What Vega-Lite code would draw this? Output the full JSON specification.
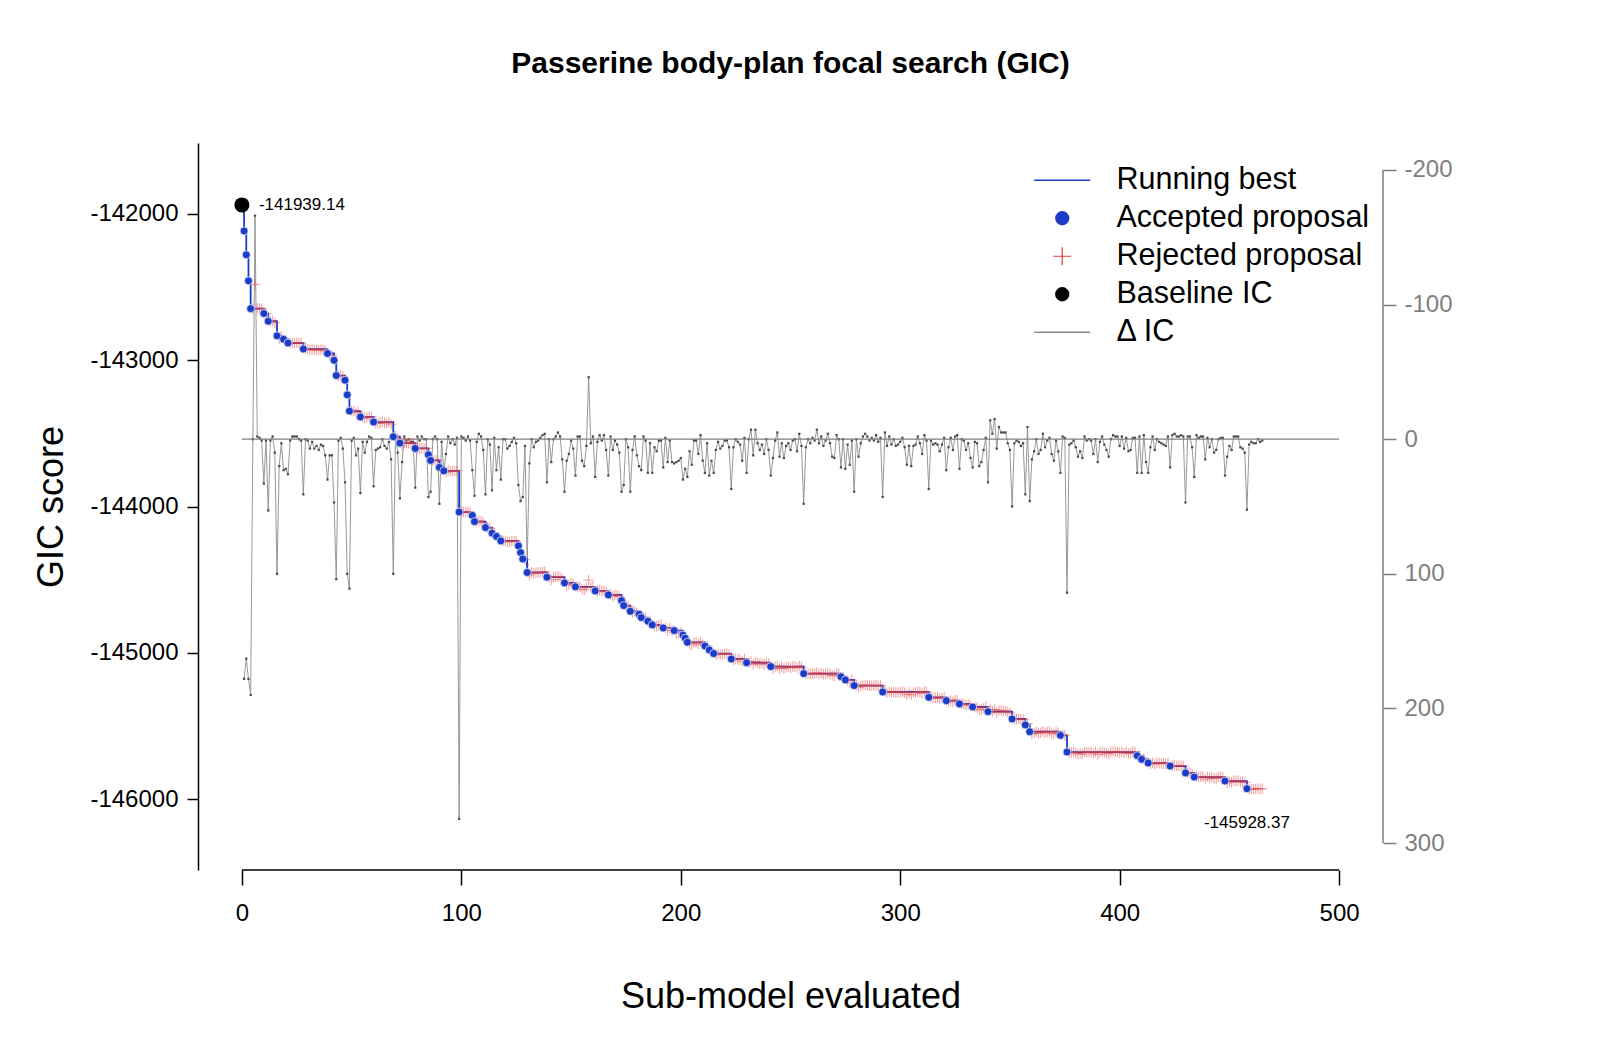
{
"$schema":"https://vega.github.io/schema/vega-lite/v6.json",
"width":1185,"height":727,
"autosize":{"type":"none"},
"padding":{"left":198,"top":143,"right":217,"bottom":180},
"background":"white",
"config":{"view":{"stroke":null},"font":"Liberation Sans"},
"title":{"text":"Passerine body-plan focal search (GIC)","font":"Liberation Sans","fontSize":30,"fontWeight":"bold","color":"black","anchor":"middle","baseline":"middle","offset":49},
"datasets":{"main":[
{"i":0,"s":-141939.14,"a":2,"d":0},
{"i":1,"s":-142117,"a":1,"d":178},{"i":2,"s":-142280,"a":1,"d":163},{"i":3,"s":-142458,"a":1,"d":178},{"i":4,"s":-142648,"a":1,"d":190},
{"i":5,"s":-142648,"a":0,"d":0},{"i":6,"s":-142482,"a":0,"d":-166},{"i":7,"s":-142646,"a":0,"d":-2},{"i":8,"s":-142647,"a":0,"d":-1},{"i":9,"s":-142649,"a":0,"d":1},
{"i":10,"s":-142681,"a":1,"d":33},{"i":11,"s":-142682,"a":0,"d":1},{"i":12,"s":-142734,"a":1,"d":53},{"i":13,"s":-142735,"a":0,"d":1},{"i":14,"s":-142732,"a":0,"d":-2},
{"i":15,"s":-142744,"a":0,"d":10},{"i":16,"s":-142834,"a":1,"d":100},{"i":17,"s":-142854,"a":0,"d":20},{"i":18,"s":-142837,"a":0,"d":3},{"i":19,"s":-142857,"a":1,"d":23},
{"i":20,"s":-142879,"a":0,"d":22},{"i":21,"s":-142883,"a":1,"d":26},{"i":22,"s":-142884,"a":0,"d":1},{"i":23,"s":-142881,"a":0,"d":-2},{"i":24,"s":-142881,"a":0,"d":-2},
{"i":25,"s":-142881,"a":0,"d":-2},{"i":26,"s":-142883,"a":0,"d":0},{"i":27,"s":-142884,"a":0,"d":1},{"i":28,"s":-142924,"a":1,"d":41},{"i":29,"s":-142924,"a":0,"d":0},
{"i":30,"s":-142925,"a":0,"d":1},{"i":31,"s":-142931,"a":0,"d":7},{"i":32,"s":-142926,"a":0,"d":2},{"i":33,"s":-142931,"a":0,"d":7},{"i":34,"s":-142929,"a":0,"d":5},
{"i":35,"s":-142932,"a":0,"d":8},{"i":36,"s":-142928,"a":0,"d":4},{"i":37,"s":-142929,"a":0,"d":5},{"i":38,"s":-142936,"a":0,"d":12},{"i":39,"s":-142954,"a":1,"d":30},
{"i":40,"s":-142966,"a":0,"d":12},{"i":41,"s":-142966,"a":0,"d":12},{"i":42,"s":-143001,"a":1,"d":47},{"i":43,"s":-143105,"a":1,"d":104},{"i":44,"s":-143106,"a":0,"d":1},
{"i":45,"s":-143104,"a":0,"d":-1},{"i":46,"s":-143112,"a":0,"d":7},{"i":47,"s":-143137,"a":1,"d":32},{"i":48,"s":-143237,"a":1,"d":100},{"i":49,"s":-143348,"a":1,"d":111},
{"i":50,"s":-143349,"a":0,"d":1},{"i":51,"s":-143347,"a":0,"d":-1},{"i":52,"s":-143360,"a":0,"d":12},{"i":53,"s":-143355,"a":0,"d":7},{"i":54,"s":-143388,"a":1,"d":40},
{"i":55,"s":-143390,"a":0,"d":2},{"i":56,"s":-143398,"a":0,"d":10},{"i":57,"s":-143390,"a":0,"d":2},{"i":58,"s":-143386,"a":0,"d":-2},{"i":59,"s":-143387,"a":0,"d":-1},
{"i":60,"s":-143423,"a":1,"d":35},{"i":61,"s":-143431,"a":0,"d":8},{"i":62,"s":-143430,"a":0,"d":7},{"i":63,"s":-143429,"a":0,"d":6},{"i":64,"s":-143423,"a":0,"d":0},
{"i":65,"s":-143428,"a":0,"d":5},{"i":66,"s":-143430,"a":0,"d":7},{"i":67,"s":-143425,"a":0,"d":2},{"i":68,"s":-143438,"a":0,"d":15},{"i":69,"s":-143523,"a":1,"d":100},
{"i":70,"s":-143521,"a":0,"d":-2},{"i":71,"s":-143533,"a":0,"d":10},{"i":72,"s":-143567,"a":1,"d":44},{"i":73,"s":-143584,"a":0,"d":17},{"i":74,"s":-143565,"a":0,"d":-2},
{"i":75,"s":-143568,"a":0,"d":1},{"i":76,"s":-143567,"a":0,"d":0},{"i":77,"s":-143569,"a":0,"d":2},{"i":78,"s":-143569,"a":0,"d":2},{"i":79,"s":-143603,"a":1,"d":36},
{"i":80,"s":-143601,"a":0,"d":-2},{"i":81,"s":-143604,"a":0,"d":1},{"i":82,"s":-143601,"a":0,"d":-2},{"i":83,"s":-143603,"a":0,"d":0},{"i":84,"s":-143603,"a":0,"d":0},
{"i":85,"s":-143646,"a":1,"d":43},{"i":86,"s":-143685,"a":1,"d":39},{"i":87,"s":-143685,"a":0,"d":0},{"i":88,"s":-143683,"a":0,"d":-2},{"i":89,"s":-143685,"a":0,"d":0},
{"i":90,"s":-143733,"a":1,"d":48},{"i":91,"s":-143735,"a":0,"d":2},{"i":92,"s":-143756,"a":1,"d":23},{"i":93,"s":-143767,"a":0,"d":11},{"i":94,"s":-143754,"a":0,"d":-2},
{"i":95,"s":-143759,"a":0,"d":3},{"i":96,"s":-143756,"a":0,"d":0},{"i":97,"s":-143760,"a":0,"d":4},{"i":98,"s":-143755,"a":0,"d":-1},{"i":99,"s":-144038,"a":1,"d":282},
{"i":100,"s":-144036,"a":0,"d":-2},{"i":101,"s":-144037,"a":0,"d":-1},{"i":102,"s":-144039,"a":0,"d":1},{"i":103,"s":-144036,"a":0,"d":-2},{"i":104,"s":-144039,"a":0,"d":1},
{"i":105,"s":-144061,"a":1,"d":23},{"i":106,"s":-144103,"a":1,"d":42},{"i":107,"s":-144105,"a":0,"d":2},{"i":108,"s":-144099,"a":0,"d":-4},{"i":109,"s":-144101,"a":0,"d":-2},
{"i":110,"s":-144111,"a":0,"d":8},{"i":111,"s":-144144,"a":1,"d":41},{"i":112,"s":-144144,"a":0,"d":0},{"i":113,"s":-144148,"a":0,"d":4},{"i":114,"s":-144182,"a":1,"d":38},
{"i":115,"s":-144181,"a":0,"d":-1},{"i":116,"s":-144205,"a":1,"d":23},{"i":117,"s":-144211,"a":0,"d":6},{"i":118,"s":-144235,"a":1,"d":30},{"i":119,"s":-144235,"a":0,"d":0},
{"i":120,"s":-144235,"a":0,"d":0},{"i":121,"s":-144242,"a":0,"d":7},{"i":122,"s":-144240,"a":0,"d":5},{"i":123,"s":-144237,"a":0,"d":2},{"i":124,"s":-144234,"a":0,"d":-1},
{"i":125,"s":-144238,"a":0,"d":3},{"i":126,"s":-144269,"a":1,"d":34},{"i":127,"s":-144315,"a":1,"d":46},{"i":128,"s":-144358,"a":1,"d":43},{"i":129,"s":-144363,"a":0,"d":5},
{"i":130,"s":-144451,"a":1,"d":93},{"i":131,"s":-144469,"a":0,"d":18},{"i":132,"s":-144451,"a":0,"d":0},{"i":133,"s":-144457,"a":0,"d":6},{"i":134,"s":-144453,"a":0,"d":2},
{"i":135,"s":-144452,"a":0,"d":1},{"i":136,"s":-144450,"a":0,"d":-1},{"i":137,"s":-144448,"a":0,"d":-3},{"i":138,"s":-144447,"a":0,"d":-4},{"i":139,"s":-144483,"a":1,"d":32},
{"i":140,"s":-144483,"a":0,"d":0},{"i":141,"s":-144500,"a":0,"d":17},{"i":142,"s":-144483,"a":0,"d":0},{"i":143,"s":-144481,"a":0,"d":-2},{"i":144,"s":-144478,"a":0,"d":-5},
{"i":145,"s":-144481,"a":0,"d":-2},{"i":146,"s":-144498,"a":0,"d":15},{"i":147,"s":-144522,"a":1,"d":39},{"i":148,"s":-144538,"a":0,"d":16},{"i":149,"s":-144533,"a":0,"d":11},
{"i":150,"s":-144523,"a":0,"d":1},{"i":151,"s":-144529,"a":0,"d":7},{"i":152,"s":-144549,"a":1,"d":27},{"i":153,"s":-144547,"a":0,"d":-2},{"i":154,"s":-144547,"a":0,"d":-2},
{"i":155,"s":-144565,"a":0,"d":16},{"i":156,"s":-144569,"a":0,"d":20},{"i":157,"s":-144554,"a":0,"d":5},{"i":158,"s":-144503,"a":0,"d":-46},{"i":159,"s":-144552,"a":0,"d":3},
{"i":160,"s":-144547,"a":0,"d":-2},{"i":161,"s":-144577,"a":1,"d":28},{"i":162,"s":-144579,"a":0,"d":2},{"i":163,"s":-144574,"a":0,"d":-3},{"i":164,"s":-144578,"a":0,"d":1},
{"i":165,"s":-144574,"a":0,"d":-3},{"i":166,"s":-144585,"a":0,"d":8},{"i":167,"s":-144604,"a":1,"d":27},{"i":168,"s":-144602,"a":0,"d":-2},{"i":169,"s":-144612,"a":0,"d":8},
{"i":170,"s":-144605,"a":0,"d":1},{"i":171,"s":-144608,"a":0,"d":4},{"i":172,"s":-144614,"a":0,"d":10},{"i":173,"s":-144643,"a":1,"d":39},{"i":174,"s":-144677,"a":1,"d":34},
{"i":175,"s":-144677,"a":0,"d":0},{"i":176,"s":-144683,"a":0,"d":6},{"i":177,"s":-144716,"a":1,"d":39},{"i":178,"s":-144724,"a":0,"d":8},{"i":179,"s":-144714,"a":0,"d":-2},
{"i":180,"s":-144728,"a":0,"d":12},{"i":181,"s":-144736,"a":1,"d":20},{"i":182,"s":-144759,"a":1,"d":23},{"i":183,"s":-144757,"a":0,"d":-2},{"i":184,"s":-144760,"a":0,"d":1},
{"i":185,"s":-144784,"a":1,"d":25},{"i":186,"s":-144787,"a":0,"d":3},{"i":187,"s":-144809,"a":1,"d":25},{"i":188,"s":-144815,"a":0,"d":6},{"i":189,"s":-144818,"a":0,"d":9},
{"i":190,"s":-144810,"a":0,"d":1},{"i":191,"s":-144810,"a":0,"d":1},{"i":192,"s":-144830,"a":1,"d":21},{"i":193,"s":-144829,"a":0,"d":-1},{"i":194,"s":-144847,"a":0,"d":17},
{"i":195,"s":-144831,"a":0,"d":1},{"i":196,"s":-144847,"a":0,"d":17},{"i":197,"s":-144848,"a":1,"d":18},{"i":198,"s":-144865,"a":0,"d":17},{"i":199,"s":-144864,"a":0,"d":16},
{"i":200,"s":-144862,"a":0,"d":14},{"i":201,"s":-144878,"a":1,"d":30},{"i":202,"s":-144900,"a":1,"d":22},{"i":203,"s":-144928,"a":1,"d":28},{"i":204,"s":-144937,"a":0,"d":9},
{"i":205,"s":-144947,"a":0,"d":19},{"i":206,"s":-144929,"a":0,"d":1},{"i":207,"s":-144929,"a":0,"d":1},{"i":208,"s":-144939,"a":0,"d":11},{"i":209,"s":-144925,"a":0,"d":-3},
{"i":210,"s":-144944,"a":0,"d":16},{"i":211,"s":-144953,"a":1,"d":25},{"i":212,"s":-144956,"a":0,"d":3},{"i":213,"s":-144980,"a":1,"d":27},{"i":214,"s":-144996,"a":0,"d":16},
{"i":215,"s":-145005,"a":1,"d":25},{"i":216,"s":-145013,"a":0,"d":8},{"i":217,"s":-145007,"a":0,"d":2},{"i":218,"s":-145012,"a":0,"d":7},{"i":219,"s":-145010,"a":0,"d":5},
{"i":220,"s":-145006,"a":0,"d":1},{"i":221,"s":-145006,"a":0,"d":1},{"i":222,"s":-145011,"a":0,"d":6},{"i":223,"s":-145042,"a":1,"d":37},{"i":224,"s":-145048,"a":0,"d":6},
{"i":225,"s":-145042,"a":0,"d":0},{"i":226,"s":-145044,"a":0,"d":2},{"i":227,"s":-145046,"a":0,"d":4},{"i":228,"s":-145058,"a":0,"d":16},{"i":229,"s":-145041,"a":0,"d":-1},
{"i":230,"s":-145067,"a":1,"d":25},{"i":231,"s":-145067,"a":0,"d":0},{"i":232,"s":-145060,"a":0,"d":-7},{"i":233,"s":-145079,"a":0,"d":12},{"i":234,"s":-145060,"a":0,"d":-7},
{"i":235,"s":-145070,"a":0,"d":3},{"i":236,"s":-145075,"a":0,"d":8},{"i":237,"s":-145071,"a":0,"d":4},{"i":238,"s":-145078,"a":0,"d":11},{"i":239,"s":-145067,"a":0,"d":0},
{"i":240,"s":-145075,"a":0,"d":8},{"i":241,"s":-145094,"a":1,"d":27},{"i":242,"s":-145108,"a":0,"d":14},{"i":243,"s":-145095,"a":0,"d":1},{"i":244,"s":-145089,"a":0,"d":-5},
{"i":245,"s":-145107,"a":0,"d":13},{"i":246,"s":-145097,"a":0,"d":3},{"i":247,"s":-145108,"a":0,"d":14},{"i":248,"s":-145099,"a":0,"d":5},{"i":249,"s":-145097,"a":0,"d":3},
{"i":250,"s":-145102,"a":0,"d":8},{"i":251,"s":-145095,"a":0,"d":1},{"i":252,"s":-145094,"a":0,"d":0},{"i":253,"s":-145103,"a":0,"d":9},{"i":254,"s":-145090,"a":0,"d":-4},
{"i":255,"s":-145099,"a":0,"d":5},{"i":256,"s":-145142,"a":1,"d":48},{"i":257,"s":-145148,"a":0,"d":6},{"i":258,"s":-145142,"a":0,"d":0},{"i":259,"s":-145145,"a":0,"d":3},
{"i":260,"s":-145141,"a":0,"d":-1},{"i":261,"s":-145143,"a":0,"d":1},{"i":262,"s":-145135,"a":0,"d":-7},{"i":263,"s":-145145,"a":0,"d":3},{"i":264,"s":-145140,"a":0,"d":-2},
{"i":265,"s":-145147,"a":0,"d":5},{"i":266,"s":-145143,"a":0,"d":1},{"i":267,"s":-145138,"a":0,"d":-4},{"i":268,"s":-145145,"a":0,"d":3},{"i":269,"s":-145155,"a":0,"d":13},
{"i":270,"s":-145156,"a":0,"d":14},{"i":271,"s":-145139,"a":0,"d":-3},{"i":272,"s":-145142,"a":0,"d":0},{"i":273,"s":-145163,"a":1,"d":21},{"i":274,"s":-145163,"a":0,"d":0},
{"i":275,"s":-145185,"a":1,"d":22},{"i":276,"s":-145189,"a":0,"d":4},{"i":277,"s":-145204,"a":0,"d":19},{"i":278,"s":-145186,"a":0,"d":1},{"i":279,"s":-145224,"a":1,"d":39},
{"i":280,"s":-145224,"a":0,"d":0},{"i":281,"s":-145237,"a":0,"d":13},{"i":282,"s":-145227,"a":0,"d":3},{"i":283,"s":-145222,"a":0,"d":-2},{"i":284,"s":-145220,"a":0,"d":-4},
{"i":285,"s":-145222,"a":0,"d":-2},{"i":286,"s":-145225,"a":0,"d":1},{"i":287,"s":-145223,"a":0,"d":-1},{"i":288,"s":-145225,"a":0,"d":1},{"i":289,"s":-145221,"a":0,"d":-3},
{"i":290,"s":-145226,"a":0,"d":2},{"i":291,"s":-145223,"a":0,"d":-1},{"i":292,"s":-145267,"a":1,"d":43},{"i":293,"s":-145262,"a":0,"d":-5},{"i":294,"s":-145272,"a":0,"d":5},
{"i":295,"s":-145265,"a":0,"d":-2},{"i":296,"s":-145271,"a":0,"d":4},{"i":297,"s":-145267,"a":0,"d":0},{"i":298,"s":-145272,"a":0,"d":5},{"i":299,"s":-145271,"a":0,"d":4},
{"i":300,"s":-145269,"a":0,"d":2},{"i":301,"s":-145266,"a":0,"d":-1},{"i":302,"s":-145273,"a":0,"d":6},{"i":303,"s":-145286,"a":0,"d":19},{"i":304,"s":-145272,"a":0,"d":5},
{"i":305,"s":-145287,"a":0,"d":20},{"i":306,"s":-145272,"a":0,"d":5},{"i":307,"s":-145271,"a":0,"d":4},{"i":308,"s":-145265,"a":0,"d":-2},{"i":309,"s":-145270,"a":0,"d":3},
{"i":310,"s":-145278,"a":0,"d":11},{"i":311,"s":-145264,"a":0,"d":-3},{"i":312,"s":-145268,"a":0,"d":1},{"i":313,"s":-145304,"a":1,"d":37},{"i":314,"s":-145305,"a":0,"d":1},
{"i":315,"s":-145308,"a":0,"d":4},{"i":316,"s":-145307,"a":0,"d":3},{"i":317,"s":-145308,"a":0,"d":4},{"i":318,"s":-145313,"a":0,"d":9},{"i":319,"s":-145308,"a":0,"d":4},
{"i":320,"s":-145303,"a":0,"d":-1},{"i":321,"s":-145327,"a":1,"d":23},{"i":322,"s":-145333,"a":0,"d":6},{"i":323,"s":-145326,"a":0,"d":-1},{"i":324,"s":-145335,"a":0,"d":8},
{"i":325,"s":-145325,"a":0,"d":-2},{"i":326,"s":-145324,"a":0,"d":-3},{"i":327,"s":-145349,"a":1,"d":22},{"i":328,"s":-145349,"a":0,"d":0},{"i":329,"s":-145350,"a":0,"d":1},
{"i":330,"s":-145357,"a":0,"d":8},{"i":331,"s":-145352,"a":0,"d":3},{"i":332,"s":-145363,"a":0,"d":14},{"i":333,"s":-145370,"a":1,"d":21},{"i":334,"s":-145372,"a":0,"d":2},
{"i":335,"s":-145373,"a":0,"d":3},{"i":336,"s":-145390,"a":0,"d":20},{"i":337,"s":-145387,"a":0,"d":17},{"i":338,"s":-145378,"a":0,"d":8},{"i":339,"s":-145369,"a":0,"d":-1},
{"i":340,"s":-145402,"a":1,"d":32},{"i":341,"s":-145388,"a":0,"d":-14},{"i":342,"s":-145398,"a":0,"d":-4},{"i":343,"s":-145387,"a":0,"d":-15},{"i":344,"s":-145409,"a":0,"d":7},
{"i":345,"s":-145393,"a":0,"d":-9},{"i":346,"s":-145397,"a":0,"d":-5},{"i":347,"s":-145397,"a":0,"d":-5},{"i":348,"s":-145397,"a":0,"d":-5},{"i":349,"s":-145405,"a":0,"d":3},
{"i":350,"s":-145410,"a":0,"d":8},{"i":351,"s":-145452,"a":1,"d":50},{"i":352,"s":-145455,"a":0,"d":3},{"i":353,"s":-145453,"a":0,"d":1},{"i":354,"s":-145454,"a":0,"d":2},
{"i":355,"s":-145457,"a":0,"d":5},{"i":356,"s":-145455,"a":0,"d":3},{"i":357,"s":-145493,"a":1,"d":41},{"i":358,"s":-145484,"a":0,"d":-9},{"i":359,"s":-145539,"a":1,"d":46},
{"i":360,"s":-145554,"a":0,"d":15},{"i":361,"s":-145548,"a":0,"d":9},{"i":362,"s":-145539,"a":0,"d":0},{"i":363,"s":-145550,"a":0,"d":11},{"i":364,"s":-145547,"a":0,"d":8},
{"i":365,"s":-145535,"a":0,"d":-4},{"i":366,"s":-145545,"a":0,"d":6},{"i":367,"s":-145540,"a":0,"d":1},{"i":368,"s":-145538,"a":0,"d":-1},{"i":369,"s":-145550,"a":0,"d":11},
{"i":370,"s":-145555,"a":0,"d":16},{"i":371,"s":-145540,"a":0,"d":1},{"i":372,"s":-145548,"a":0,"d":9},{"i":373,"s":-145564,"a":1,"d":25},{"i":374,"s":-145562,"a":0,"d":-2},
{"i":375,"s":-145563,"a":0,"d":-1},{"i":376,"s":-145678,"a":1,"d":114},{"i":377,"s":-145682,"a":0,"d":4},{"i":378,"s":-145681,"a":0,"d":3},{"i":379,"s":-145679,"a":0,"d":1},
{"i":380,"s":-145684,"a":0,"d":6},{"i":381,"s":-145691,"a":0,"d":13},{"i":382,"s":-145687,"a":0,"d":9},{"i":383,"s":-145692,"a":0,"d":14},{"i":384,"s":-145676,"a":0,"d":-2},
{"i":385,"s":-145679,"a":0,"d":1},{"i":386,"s":-145678,"a":0,"d":0},{"i":387,"s":-145679,"a":0,"d":1},{"i":388,"s":-145689,"a":0,"d":11},{"i":389,"s":-145678,"a":0,"d":0},
{"i":390,"s":-145695,"a":0,"d":17},{"i":391,"s":-145680,"a":0,"d":2},{"i":392,"s":-145676,"a":0,"d":-2},{"i":393,"s":-145682,"a":0,"d":4},{"i":394,"s":-145686,"a":0,"d":8},
{"i":395,"s":-145691,"a":0,"d":13},{"i":396,"s":-145678,"a":0,"d":0},{"i":397,"s":-145675,"a":0,"d":-3},{"i":398,"s":-145676,"a":0,"d":-2},{"i":399,"s":-145676,"a":0,"d":-2},
{"i":400,"s":-145683,"a":0,"d":5},{"i":401,"s":-145676,"a":0,"d":-2},{"i":402,"s":-145685,"a":0,"d":7},{"i":403,"s":-145677,"a":0,"d":-1},{"i":404,"s":-145687,"a":0,"d":9},
{"i":405,"s":-145686,"a":0,"d":8},{"i":406,"s":-145677,"a":0,"d":-1},{"i":407,"s":-145677,"a":0,"d":-1},{"i":408,"s":-145703,"a":1,"d":25},{"i":409,"s":-145701,"a":0,"d":-2},
{"i":410,"s":-145728,"a":1,"d":25},{"i":411,"s":-145725,"a":0,"d":-3},{"i":412,"s":-145745,"a":0,"d":17},{"i":413,"s":-145753,"a":1,"d":25},{"i":414,"s":-145759,"a":0,"d":6},
{"i":415,"s":-145751,"a":0,"d":-2},{"i":416,"s":-145761,"a":0,"d":8},{"i":417,"s":-145753,"a":0,"d":0},{"i":418,"s":-145755,"a":0,"d":2},{"i":419,"s":-145756,"a":0,"d":3},
{"i":420,"s":-145757,"a":0,"d":4},{"i":421,"s":-145758,"a":0,"d":5},{"i":422,"s":-145751,"a":0,"d":-2},{"i":423,"s":-145774,"a":1,"d":21},{"i":424,"s":-145771,"a":0,"d":-3},
{"i":425,"s":-145770,"a":0,"d":-4},{"i":426,"s":-145772,"a":0,"d":-2},{"i":427,"s":-145772,"a":0,"d":-2},{"i":428,"s":-145771,"a":0,"d":-3},{"i":429,"s":-145772,"a":0,"d":-2},
{"i":430,"s":-145821,"a":1,"d":47},{"i":431,"s":-145819,"a":0,"d":-2},{"i":432,"s":-145819,"a":0,"d":-2},{"i":433,"s":-145827,"a":0,"d":6},{"i":434,"s":-145849,"a":1,"d":28},
{"i":435,"s":-145846,"a":0,"d":-3},{"i":436,"s":-145848,"a":0,"d":-1},{"i":437,"s":-145847,"a":0,"d":-2},{"i":438,"s":-145847,"a":0,"d":-2},{"i":439,"s":-145864,"a":0,"d":15},
{"i":440,"s":-145848,"a":0,"d":-1},{"i":441,"s":-145855,"a":0,"d":6},{"i":442,"s":-145849,"a":0,"d":0},{"i":443,"s":-145859,"a":0,"d":10},{"i":444,"s":-145857,"a":0,"d":8},
{"i":445,"s":-145849,"a":0,"d":0},{"i":446,"s":-145848,"a":0,"d":-1},{"i":447,"s":-145848,"a":0,"d":-1},{"i":448,"s":-145876,"a":1,"d":27},{"i":449,"s":-145889,"a":0,"d":13},
{"i":450,"s":-145881,"a":0,"d":5},{"i":451,"s":-145884,"a":0,"d":8},{"i":452,"s":-145874,"a":0,"d":-2},{"i":453,"s":-145874,"a":0,"d":-2},{"i":454,"s":-145874,"a":0,"d":-2},
{"i":455,"s":-145882,"a":0,"d":6},{"i":456,"s":-145883,"a":0,"d":7},{"i":457,"s":-145886,"a":0,"d":10},{"i":458,"s":-145928.37,"a":1,"d":52.37},{"i":459,"s":-145932,"a":0,"d":4},
{"i":460,"s":-145930,"a":0,"d":2},{"i":461,"s":-145931,"a":0,"d":3},{"i":462,"s":-145931,"a":0,"d":3},{"i":463,"s":-145928,"a":0,"d":0},{"i":464,"s":-145930,"a":0,"d":2},
{"i":465,"s":-145929,"a":0,"d":1}
]},
"data":{"name":"main"},
"encoding":{"x":{"field":"i","type":"quantitative","scale":{"domain":[-20,520],"nice":false,"zero":false},
  "axis":{"title":"Sub-model evaluated","titleFont":"Liberation Sans","titleFontSize":36,"titleFontWeight":"normal","titleColor":"black","titlePadding":54,
  "values":[0,100,200,300,400,500],"labelExpr":"'' + datum.value","labelFont":"Liberation Sans","labelFontSize":24,"labelColor":"black","labelPadding":16,"labelFlush":false,"labelOverlap":false,
  "tickSize":15,"tickColor":"black","tickWidth":1.5,"domain":false,"grid":false}}},
"layer":[
 {"encoding":{"y":{"field":"d","type":"quantitative","scale":{"domain":[-220,320],"reverse":true,"nice":false,"zero":false},
   "axis":{"orient":"right","title":null,"values":[-200,-100,0,100,200,300],"labelExpr":"'' + datum.value","labelFont":"Liberation Sans","labelFontSize":24,"labelColor":"#7f7f7f","labelPadding":8,
   "tickSize":13,"tickColor":"#7f7f7f","tickWidth":1.5,"domain":false,"grid":false}}},
  "layer":[
   {"transform":[{"filter":"datum.a <= 1"}],
    "mark":{"type":"line","strokeWidth":0.9},
    "encoding":{"color":{"datum":"Δ IC","type":"nominal",
      "scale":{"domain":["Running best","Accepted proposal","Rejected proposal","Baseline IC","Δ IC"],"range":["#1b3cc8","#1b3cc8","#e83a3a","#000000","#8c8c8c"]},
      "legend":{"title":null,"orient":"none","legendX":849,"legendY":22,"padding":0,"labelFont":"Liberation Sans","labelFontSize":30.5,"labelColor":"black","labelLimit":500,"labelOffset":39,
        "symbolType":"stroke","symbolSize":3136,"symbolStrokeWidth":1.6,"rowPadding":7,
        "encode":{"symbols":{"update":{
          "shape":{"signal":"datum.value === 'Accepted proposal' || datum.value === 'Baseline IC' ? 'circle' : datum.value === 'Rejected proposal' ? 'M-1,0H1M0,-1V1' : 'stroke'"},
          "size":{"signal":"datum.value === 'Accepted proposal' || datum.value === 'Baseline IC' ? 160 : datum.value === 'Rejected proposal' ? 324 : 3136"},
          "fill":{"signal":"datum.value === 'Accepted proposal' ? '#1b3cc8' : datum.value === 'Baseline IC' ? '#000000' : 'transparent'"},
          "stroke":{"signal":"datum.value === 'Running best' ? '#1b3cc8' : datum.value === 'Rejected proposal' ? '#f08a8a' : datum.value === 'Δ IC' ? '#8c8c8c' : 'transparent'"},
          "strokeWidth":{"signal":"datum.value === 'Rejected proposal' ? 1.2 : 1.6"},
          "opacity":{"value":1}}}}}}}},
   {"transform":[{"filter":"datum.a <= 1"}],
    "mark":{"type":"point","shape":"square","filled":true,"size":5,"color":"#4a4a4a","opacity":1}},
   {"transform":[{"filter":"datum.i == 0"}],
    "mark":{"type":"rule","color":"#7f7f7f","strokeWidth":1.3},
    "encoding":{"x":{"datum":0,"type":"quantitative"},"x2":{"datum":500},"y":{"datum":0,"type":"quantitative"}}},
   {"transform":[{"filter":"datum.i == 0"}],
    "mark":{"type":"rule","color":"#7f7f7f","strokeWidth":1.5},
    "encoding":{"x":{"datum":520,"type":"quantitative"},"y":{"datum":-200,"type":"quantitative"},"y2":{"datum":300}}}
  ]},
 {"encoding":{"y":{"field":"s","type":"quantitative","scale":{"domain":[-146484,-141516],"nice":false,"zero":false},
   "axis":{"orient":"left","title":"GIC score","titleFont":"Liberation Sans","titleFontSize":36,"titleFontWeight":"normal","titleColor":"black","titlePadding":19,
   "values":[-142000,-143000,-144000,-145000,-146000],"labelExpr":"'' + datum.value","labelFont":"Liberation Sans","labelFontSize":24,"labelColor":"black","labelPadding":9,
   "tickSize":11,"tickColor":"black","tickWidth":1.5,"domainColor":"black","domainWidth":1.5,"grid":false}}},
  "layer":[
   {"transform":[{"filter":"datum.a >= 1"}],
    "mark":{"type":"line","interpolate":"step-after","strokeWidth":1.8},
    "encoding":{"color":{"datum":"Running best","type":"nominal"}}},
   {"transform":[{"filter":"datum.a == 0"}],
    "mark":{"type":"point","shape":"M-1,0H1M0,-1V1","filled":false,"size":110,"strokeWidth":1,"opacity":0.5},
    "encoding":{"color":{"datum":"Rejected proposal","type":"nominal"}}},
   {"transform":[{"filter":"datum.a == 1"}],
    "mark":{"type":"point","shape":"circle","filled":true,"size":64,"opacity":1,"stroke":"#dfe4f7","strokeWidth":0.8},
    "encoding":{"color":{"datum":"Accepted proposal","type":"nominal"}}},
   {"transform":[{"filter":"datum.a == 2"}],
    "mark":{"type":"point","shape":"circle","filled":true,"size":225,"opacity":1},
    "encoding":{"color":{"datum":"Baseline IC","type":"nominal"}}},
   {"transform":[{"filter":"datum.a == 2"}],
    "mark":{"type":"text","align":"left","baseline":"middle","dx":17,"fontSize":17,"font":"Liberation Sans","color":"black"},
    "encoding":{"text":{"field":"s","type":"nominal"}}},
   {"transform":[{"filter":"datum.i == 458"}],
    "mark":{"type":"text","align":"center","baseline":"middle","dy":34,"fontSize":17,"font":"Liberation Sans","color":"black"},
    "encoding":{"text":{"field":"s","type":"nominal"}}},
   {"transform":[{"filter":"datum.i == 0"}],
    "mark":{"type":"rule","color":"black","strokeWidth":1.5},
    "encoding":{"x":{"datum":0,"type":"quantitative"},"x2":{"datum":500},"y":{"datum":-146484,"type":"quantitative"}}}
  ]}
],
"resolve":{"scale":{"y":"independent"}}
}
